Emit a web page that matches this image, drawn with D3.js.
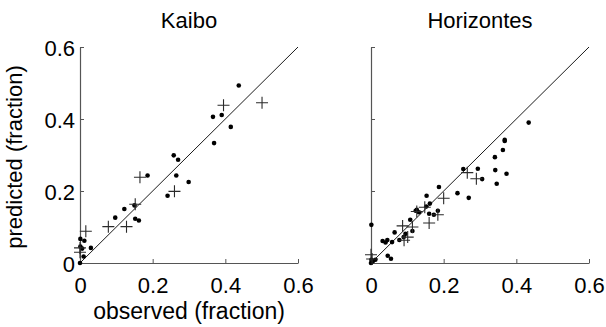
<!DOCTYPE html>
<html>
<head>
<meta charset="utf-8">
<script src="https://cdn.jsdelivr.net/npm/d3@7"></script>
<style>
  body { margin: 0; background: #fff; }
  svg { display: block; font-family: "Liberation Sans", Arial, sans-serif; }
</style>
</head>
<body>
<svg id="chart" width="606" height="327"></svg>
<script>
// Observed vs predicted fractions for two sites
const panelTitles = ["Kaibo", "Horizontes"];
const tickValues = [0, 0.2, 0.4, 0.6];
const tickLabels = ["0", "0.2", "0.4", "0.6"];

// Kaibo: dots [observed, predicted]
const kaiboDots = [
  [0.437, 0.493], [0.366, 0.406], [0.390, 0.411], [0.415, 0.378], [0.369, 0.333],
  [0.258, 0.299], [0.270, 0.287], [0.265, 0.243], [0.299, 0.225], [0.241, 0.187],
  [0.186, 0.243], [0.122, 0.150], [0.150, 0.160], [0.097, 0.126], [0.152, 0.123],
  [0.162, 0.118], [0.001, 0.067], [0.012, 0.062], [0.030, 0.042], [0.001, 0.046],
  [0.006, 0.040], [0.010, 0.018], [0.000, 0.000]
];
// Kaibo: crosses [observed, predicted]
const kaiboCrosses = [
  [0.395, 0.438], [0.501, 0.445], [0.165, 0.238], [0.260, 0.199], [0.152, 0.163],
  [0.078, 0.101], [0.128, 0.101], [0.016, 0.088], [0.000, 0.042], [0.000, 0.030]
];

// Horizontes: dots [observed, predicted]
const horizDots = [
  [0.434, 0.390], [0.368, 0.342], [0.368, 0.339], [0.363, 0.314], [0.341, 0.294],
  [0.342, 0.258], [0.373, 0.248], [0.346, 0.220], [0.294, 0.262], [0.306, 0.233],
  [0.254, 0.261], [0.238, 0.194], [0.269, 0.181], [0.187, 0.211], [0.153, 0.187],
  [0.162, 0.165], [0.152, 0.157], [0.160, 0.137], [0.173, 0.134], [0.184, 0.145],
  [0.123, 0.145], [0.132, 0.141], [0.126, 0.148], [0.108, 0.120], [0.114, 0.089],
  [0.095, 0.081], [0.090, 0.072], [0.078, 0.064], [0.065, 0.085], [0.058, 0.058],
  [0.045, 0.064], [0.040, 0.057], [0.032, 0.061], [0.046, 0.020], [0.055, 0.012],
  [0.001, 0.106], [0.001, 0.009], [0.012, 0.009], [0.000, 0.000], [0.005, 0.005]
];
// Horizontes: crosses [observed, predicted]
const horizCrosses = [
  [0.265, 0.251], [0.290, 0.234], [0.200, 0.180], [0.184, 0.134], [0.160, 0.111],
  [0.126, 0.143], [0.148, 0.155], [0.087, 0.103], [0.114, 0.100], [0.101, 0.072],
  [0.091, 0.063], [0.000, 0.023], [0.003, 0.011]
];

const panels = [
  { title: panelTitles[0], dots: kaiboDots, crosses: kaiboCrosses, left: 80, yLabels: true, xTitle: true },
  { title: panelTitles[1], dots: horizDots, crosses: horizCrosses, left: 371, yLabels: false, xTitle: false }
];

const svg = d3.select("#chart");
const plotTop = 47, plotBottom = 263, plotWidth = 218;
const fontSize = 22;

panels.forEach(p => {
  const x = d3.scaleLinear().domain([0, 0.6]).range([p.left, p.left + plotWidth]);
  const y = d3.scaleLinear().domain([0, 0.6]).range([plotBottom, plotTop]);
  const g = svg.append("g");

  // axes with inward ticks
  const xAxis = d3.axisBottom(x).tickValues(tickValues).tickSizeInner(-4).tickSizeOuter(0)
    .tickFormat((d, i) => tickLabels[i]).tickPadding(14);
  const yAxis = d3.axisLeft(y).tickValues(tickValues).tickSizeInner(-4).tickSizeOuter(0)
    .tickFormat((d, i) => p.yLabels ? tickLabels[i] : "").tickPadding(5);

  const gx = g.append("g").attr("transform", `translate(0,${plotBottom})`).call(xAxis);
  const gy = g.append("g").attr("transform", `translate(${p.left},0)`).call(yAxis);
  [gx, gy].forEach(a => {
    a.select(".domain").attr("stroke", "#555").attr("stroke-width", 1.2);
    a.selectAll(".tick line").attr("stroke", "#555");
    a.selectAll(".tick text").attr("fill", "#000").attr("font-size", fontSize)
      .attr("font-family", "Liberation Sans, Arial, sans-serif");
  });
  gy.selectAll(".tick text").attr("dy", "0.4em");

  // 1:1 line
  g.append("line")
    .attr("x1", x(0)).attr("y1", y(0)).attr("x2", x(0.6)).attr("y2", y(0.6))
    .attr("stroke", "#000").attr("stroke-width", 0.9);

  // dots
  g.selectAll("circle.dot").data(p.dots).join("circle")
    .attr("class", "dot")
    .attr("cx", d => x(d[0])).attr("cy", d => y(d[1])).attr("r", 2.3)
    .attr("fill", "#000");

  // crosses
  const s = 6;
  g.selectAll("path.cross").data(p.crosses).join("path")
    .attr("class", "cross")
    .attr("d", d => {
      const cx = x(d[0]), cy = y(d[1]);
      return `M${cx - s},${cy}H${cx + s}M${cx},${cy - s}V${cy + s}`;
    })
    .attr("stroke", "#2a2a2a").attr("stroke-width", 1.1).attr("fill", "none");

  // title
  g.append("text")
    .attr("x", p.left + plotWidth / 2).attr("y", 28)
    .attr("text-anchor", "middle").attr("font-size", fontSize)
    .text(p.title);

  if (p.xTitle) {
    g.append("text")
      .attr("x", p.left + plotWidth / 2).attr("y", 319)
      .attr("text-anchor", "middle").attr("font-size", 23)
      .text("observed (fraction)");
    g.append("text")
      .attr("transform", `translate(22,${(plotTop + plotBottom) / 2 + 2}) rotate(-90)`)
      .attr("text-anchor", "middle").attr("font-size", fontSize)
      .text("predicted (fraction)");
  }
});
</script>
</body>
</html>
